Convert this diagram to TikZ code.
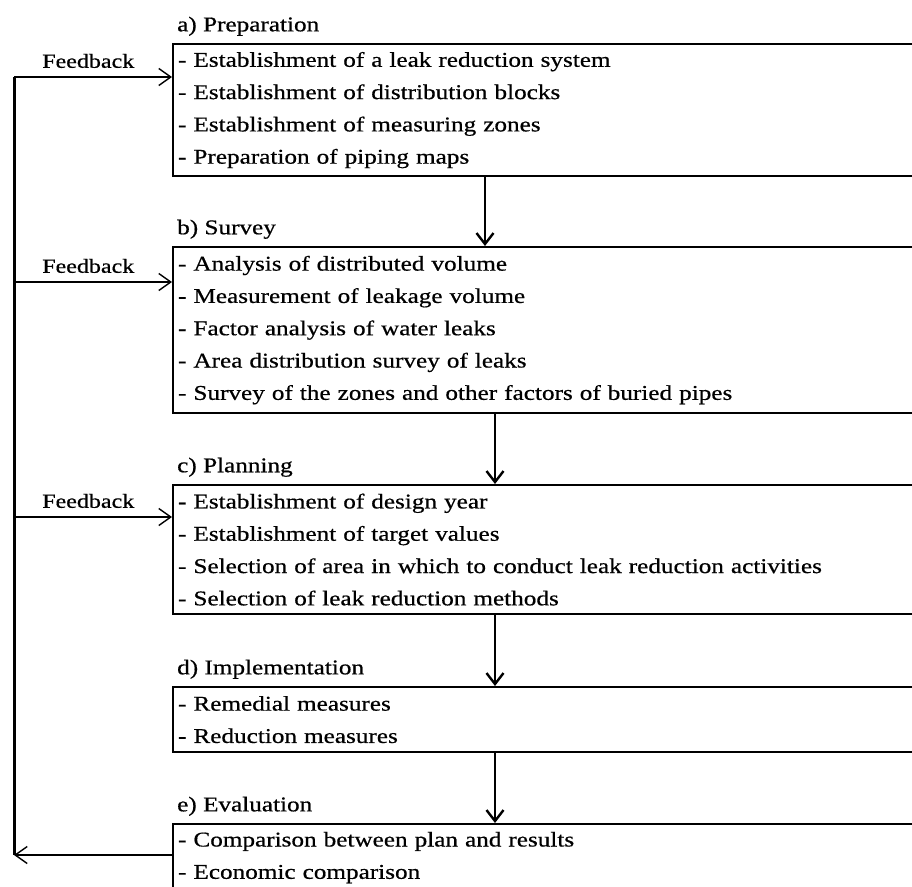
\documentclass[tikz,border=0pt]{standalone}
\usepackage{fontspec}
\setmainfont{Liberation Serif}[FakeStretch=1.2,FakeBold=0.6]
\usetikzlibrary{positioning,arrows.meta}

\tikzset{
  stage/.style={draw, line width=2.2pt, anchor=north west, text width=740pt,
    align=left, inner xsep=5pt, inner ysep=3pt,
    font=\fontsize{21}{32.3}\selectfont},
  stagename/.style={inner xsep=5pt, inner ysep=0pt, font=\fontsize{21}{25}\selectfont},
  flow/.style={-{Straight Barb[length=11pt,width=17pt]}, line width=2.4pt},
  back/.style={-{Straight Barb[length=12pt,width=17pt]}, line width=1.4pt},
  fbtext/.style={font=\fontsize{20}{24}\selectfont},
}

\begin{document}
\begin{tikzpicture}[x=1pt, y=-1pt]
    \useasboundingbox (0,0) rectangle (912,886);
    \clip (0,0) rectangle (912,886);

    % stages
    \node (a) [stage, minimum height=132pt] at (172,43)
      {- Establishment of a leak reduction system\\
       - Establishment of distribution blocks\\
       - Establishment of measuring zones\\
       - Preparation of piping maps};
    \node (b) [stage, minimum height=166pt] at (172,246)
      {- Analysis of distributed volume\\
       - Measurement of leakage volume\\
       - Factor analysis of water leaks\\
       - Area distribution survey of leaks\\
       - Survey of the zones and other factors of buried pipes};
    \node (c) [stage, minimum height=129pt] at (172,484)
      {- Establishment of design year\\
       - Establishment of target values\\
       - Selection of area in which to conduct leak reduction activities\\
       - Selection of leak reduction methods};
    \node (d) [stage, minimum height=65pt] at (172,686)
      {- Remedial measures\\
       - Reduction measures};
    \node (e) [stage, minimum height=67pt] at (172,823)
      {- Comparison between plan and results\\
       - Economic comparison};

    \node (pa) [stagename, above right=7pt and 0pt of a.north west] {a) Preparation};
    \node (pb) [stagename, above right=7pt and 0pt of b.north west] {b) Survey};
    \node (pc) [stagename, above right=7pt and 0pt of c.north west] {c) Planning};
    \node (pd) [stagename, above right=7pt and 0pt of d.north west] {d) Implementation};
    \node (pe) [stagename, above right=7pt and 0pt of e.north west] {e) Evaluation};

    % flow down
    \coordinate (ka) at (485,0);
    \coordinate (kb) at (495,0);
    \draw[flow] (a.south -| ka) -- (b.north -| ka);
    \draw[flow] (b.south -| kb) -- (c.north -| kb);
    \draw[flow] (c.south -| kb) -- (d.north -| kb);
    \draw[flow] (d.south -| kb) -- (e.north -| kb);

    % feedback loop
    \coordinate (fa) at (14,77);
    \coordinate (fb) at (14,282);
    \coordinate (fc) at (14,517);
    \coordinate (fe) at (14,855);
    \draw[back] (e.west |- fe) -- (fe);
    \draw[line width=3pt] (fe) -- (fa);
    \draw[back] (fa) -- (a.west |- fa) node[fbtext, pos=.47, above=5pt] {Feedback};
    \draw[back] (fb) -- (b.west |- fb) node[fbtext, pos=.47, above=5pt] {Feedback};
    \draw[back] (fc) -- (c.west |- fc) node[fbtext, pos=.47, above=5pt] {Feedback};
\end{tikzpicture}
\end{document}
